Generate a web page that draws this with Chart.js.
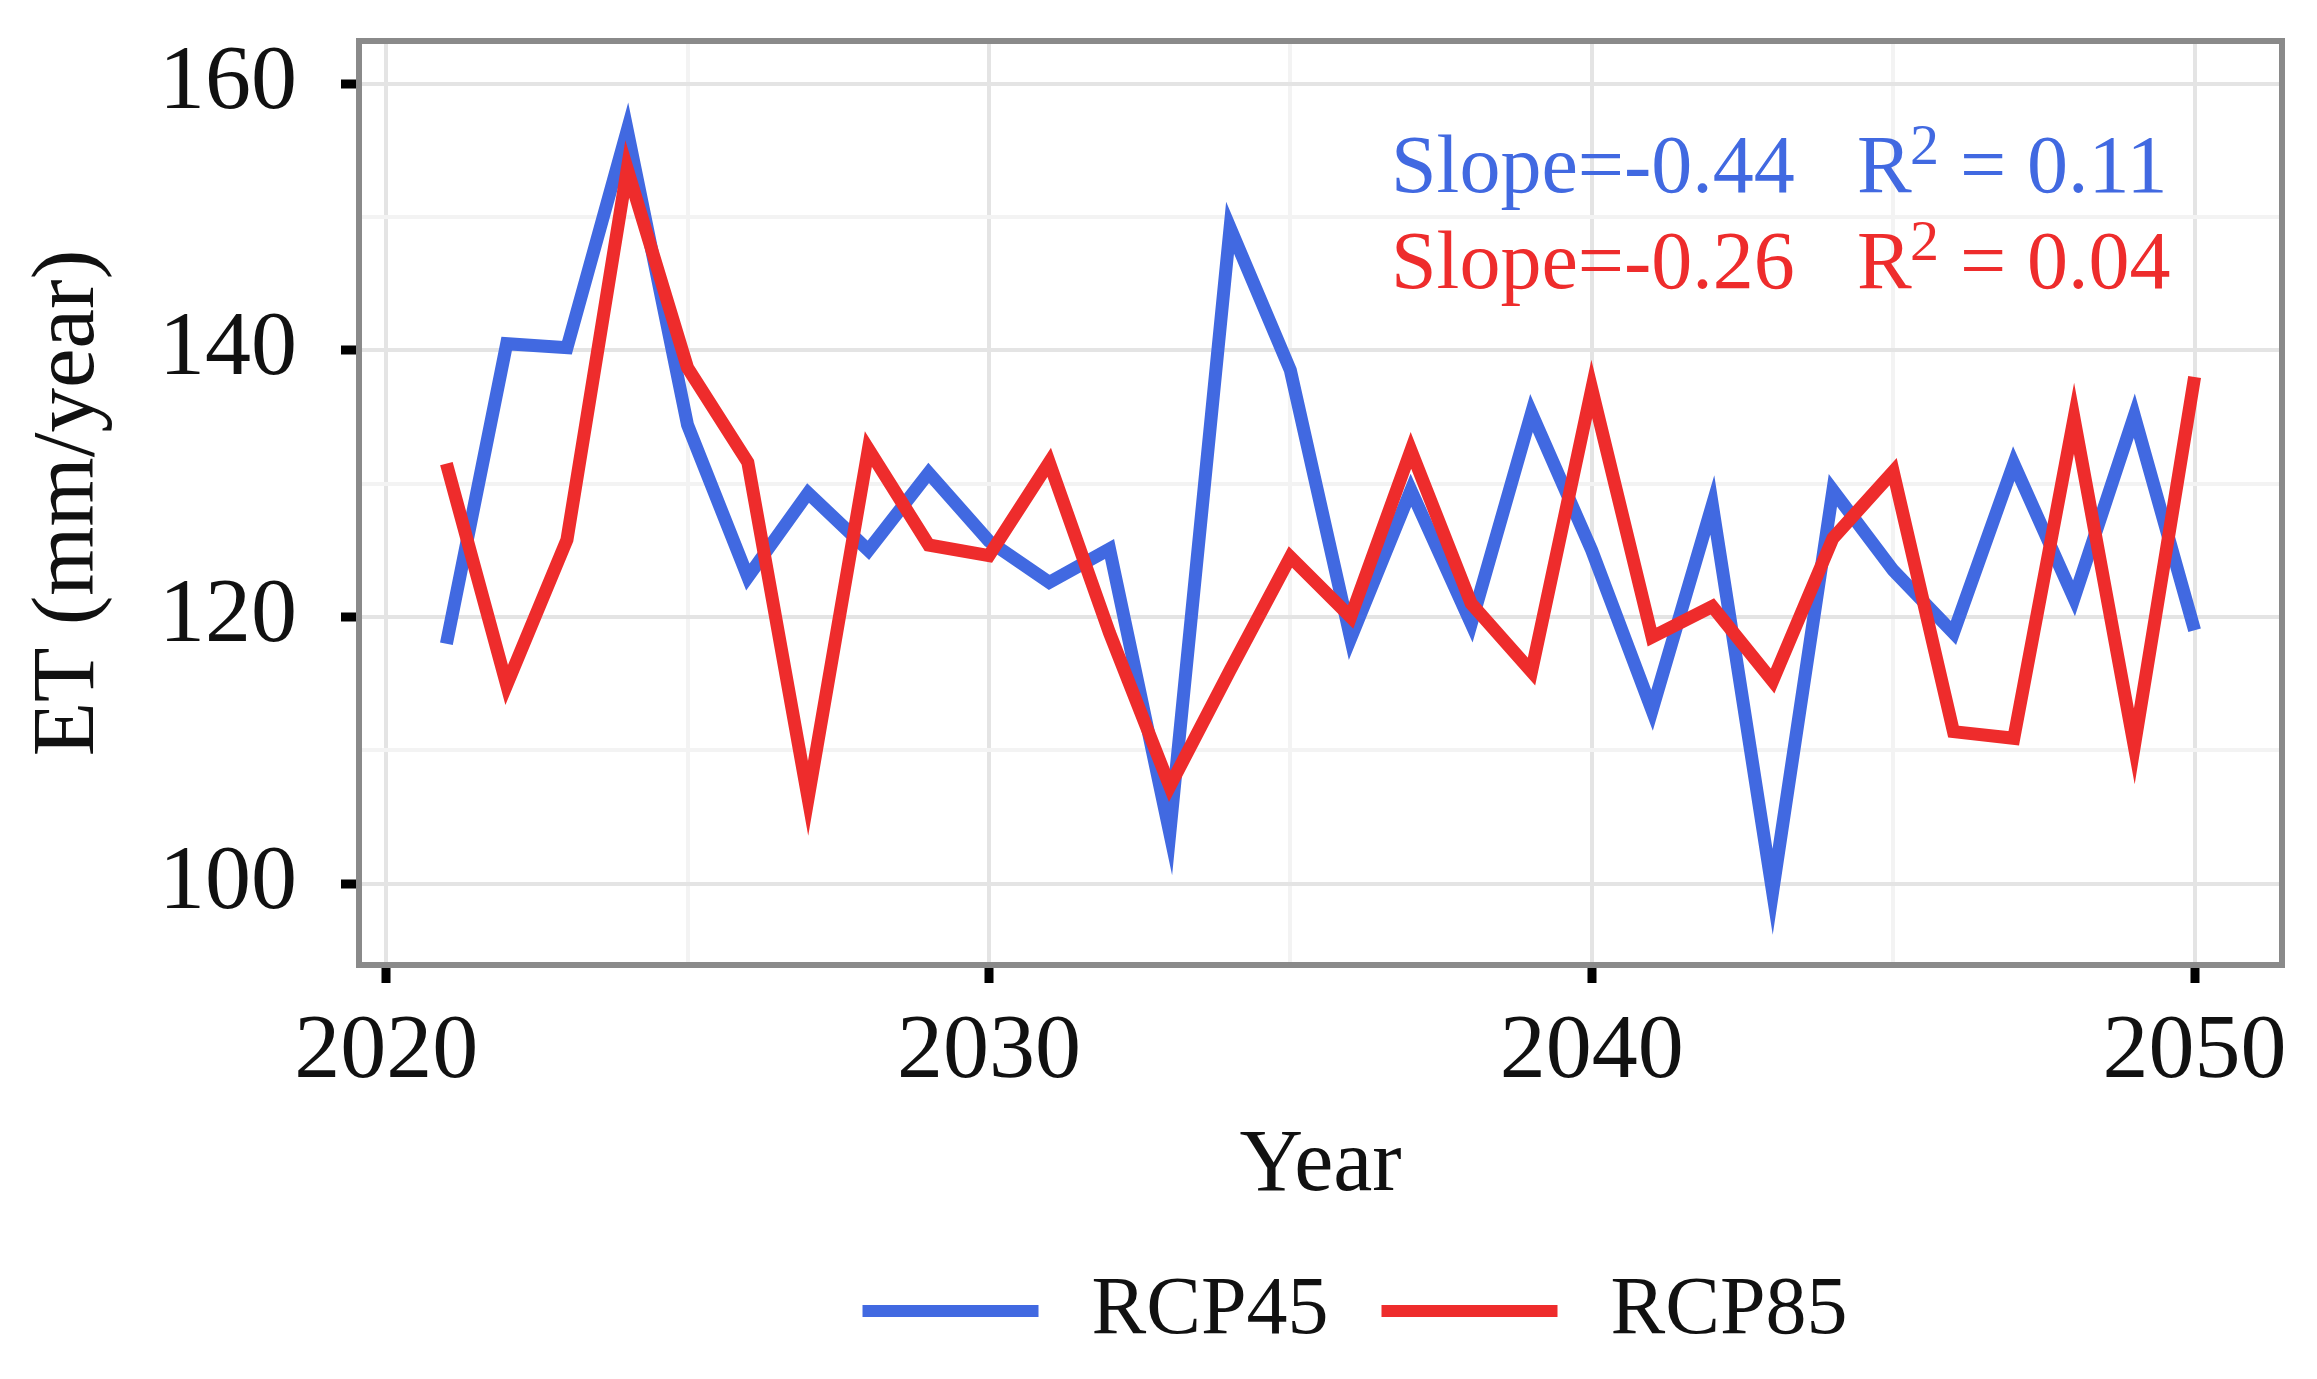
<!DOCTYPE html>
<html>
<head>
<meta charset="utf-8">
<script src="https://cdn.jsdelivr.net/npm/chart.js@4"></script>
<style>
  body { margin: 0; background: #fff; }
  #wrap { width: 2317px; height: 1379px; }
</style>
</head>
<body>
<div id="wrap"><canvas id="chart" width="2317" height="1379"></canvas></div>
<script>
const years = [2021, 2022, 2023, 2024, 2025, 2026, 2027, 2028, 2029, 2030,
  2031, 2032, 2033, 2034, 2035, 2036, 2037, 2038, 2039, 2040,
  2041, 2042, 2043, 2044, 2045, 2046, 2047, 2048, 2049, 2050];
const rcp45 = [118, 140.5, 140.2, 156.5, 134.4, 123, 129.3, 125, 130.8, 125.7,
  122.6, 125.1, 103.8, 149.2, 138.5, 118.4, 129.5, 119.5, 135.3, 125,
  113, 128.4, 99.4, 129.5, 123.5, 118.8, 131.5, 121.4, 135.1, 119];
const rcp85 = [131.5, 114.9, 125.8, 153.6, 138.7, 131.6, 106.4, 132.6, 125.4, 124.6,
  131.6, 118.8, 107.3, 116, 124.5, 120, 132.5, 121, 115.9, 137.1,
  118.5, 120.8, 115.2, 125.9, 130.9, 111.4, 110.9, 134.9, 110.3, 138];

const xTicks = [2020, 2025, 2030, 2035, 2040, 2045, 2050];
const yTicks = [100, 110, 120, 130, 140, 150, 160];
const stats = [
  { slope: 'Slope=-0.44', r2: '0.11' },
  { slope: 'Slope=-0.26', r2: '0.04' }
];

const blue = '#4169e1';
const red = '#ee2c2c';
const serif = "'Liberation Serif', 'Times New Roman', serif";

Chart.defaults.font.family = serif;
Chart.defaults.color = '#111';

const majorGrid = '#e4e4e4';
const minorGrid = '#f3f3f3';

// panel border like ggplot theme_bw
const panelBorder = {
  id: 'panelBorder',
  afterDraw(chart) {
    const { ctx, chartArea: a } = chart;
    ctx.save();
    ctx.strokeStyle = '#8a8a8a';
    ctx.lineWidth = 6;
    ctx.strokeRect(a.left, a.top, a.right - a.left, a.bottom - a.top);
    ctx.restore();
  }
};

// slope / R2 text in the top right corner of the panel
const statText = {
  id: 'statText',
  afterDraw(chart) {
    const { ctx } = chart;
    const colors = [blue, red];
    ctx.save();
    ctx.textBaseline = 'alphabetic';
    stats.forEach((s, i) => {
      const base = 192 + i * 96;
      ctx.fillStyle = colors[i];
      ctx.font = '82px ' + serif;
      ctx.fillText(s.slope, 1391, base);
      ctx.fillText('R', 1857, base);
      ctx.fillText('=', 1960, base);
      ctx.fillText(s.r2, 2027, base);
      ctx.font = '58px ' + serif;
      ctx.fillText('2', 1910, base - 28);
    });
    ctx.restore();
  }
};

// legend under the x axis title
const bottomLegend = {
  id: 'bottomLegend',
  afterDraw(chart) {
    const { ctx } = chart;
    const sets = chart.data.datasets;
    const lineLen = 176, gap = 53, cy = 1311, cx = 1355;
    ctx.save();
    ctx.font = '82px ' + serif;
    ctx.textBaseline = 'middle';
    const widths = sets.map(d => ctx.measureText(d.label).width);
    let total = 0;
    widths.forEach((w, i) => { total += lineLen + gap + w + (i < widths.length - 1 ? gap : 0); });
    let x = cx - total / 2;
    sets.forEach((d, i) => {
      ctx.strokeStyle = d.borderColor;
      ctx.lineWidth = 12;
      ctx.beginPath();
      ctx.moveTo(x, cy);
      ctx.lineTo(x + lineLen, cy);
      ctx.stroke();
      x += lineLen + gap;
      ctx.fillStyle = '#111';
      ctx.fillText(d.label, x, cy);
      x += widths[i] + gap;
    });
    ctx.restore();
  }
};

const toPoints = vals => years.map((yr, i) => ({ x: yr, y: vals[i] }));

new Chart(document.getElementById('chart'), {
  type: 'line',
  data: {
    datasets: [
      {
        label: 'RCP45',
        data: toPoints(rcp45),
        borderColor: blue,
        backgroundColor: blue,
        borderWidth: 13,
        pointRadius: 0,
        tension: 0,
        borderJoinStyle: 'miter',
        order: 1
      },
      {
        label: 'RCP85',
        data: toPoints(rcp85),
        borderColor: red,
        backgroundColor: red,
        borderWidth: 13,
        pointRadius: 0,
        tension: 0,
        borderJoinStyle: 'miter',
        order: 0
      }
    ]
  },
  options: {
    responsive: false,
    animation: false,
    devicePixelRatio: 1,
    layout: { padding: { top: 41, right: 35, bottom: 136, left: 0 } },
    plugins: {
      legend: { display: false },
      tooltip: { enabled: false }
    },
    scales: {
      x: {
        type: 'linear',
        min: 2019.55,
        max: 2051.45,
        afterBuildTicks: s => { s.ticks = xTicks.map(v => ({ value: v })); },
        afterFit: s => { s.height = 278; s.paddingLeft = 0; s.paddingRight = 0; },
        border: { display: false },
        grid: {
          color: c => (c.tick && c.tick.value % 10 === 0 ? majorGrid : minorGrid),
          lineWidth: 4,
          tickColor: c => (c.tick && c.tick.value % 10 === 0 ? '#000' : 'rgba(0,0,0,0)'),
          tickWidth: 9,
          tickLength: 18
        },
        ticks: {
          autoSkip: false,
          maxRotation: 0,
          padding: 15,
          font: { size: 92 },
          callback: v => (v % 10 === 0 ? String(v) : '')
        },
        title: {
          display: true,
          text: 'Year',
          font: { size: 88 },
          padding: { top: 0, bottom: 23 }
        }
      },
      y: {
        min: 93.9,
        max: 163.2,
        afterBuildTicks: s => { s.ticks = yTicks.map(v => ({ value: v })); },
        afterFit: s => { s.width = 359; s.paddingTop = 0; s.paddingBottom = 0; },
        border: { display: false },
        grid: {
          color: c => (c.tick && c.tick.value % 20 === 0 ? majorGrid : minorGrid),
          lineWidth: 4,
          tickColor: c => (c.tick && c.tick.value % 20 === 0 ? '#000' : 'rgba(0,0,0,0)'),
          tickWidth: 9,
          tickLength: 18
        },
        ticks: {
          autoSkip: false,
          padding: 44,
          font: { size: 92 },
          callback: v => (v % 20 === 0 ? String(v) : '')
        },
        title: {
          display: true,
          text: 'ET (mm/year)',
          font: { size: 89 },
          padding: { top: 16, bottom: 0 }
        }
      }
    }
  },
  plugins: [panelBorder, statText, bottomLegend]
});
</script>
</body>
</html>
